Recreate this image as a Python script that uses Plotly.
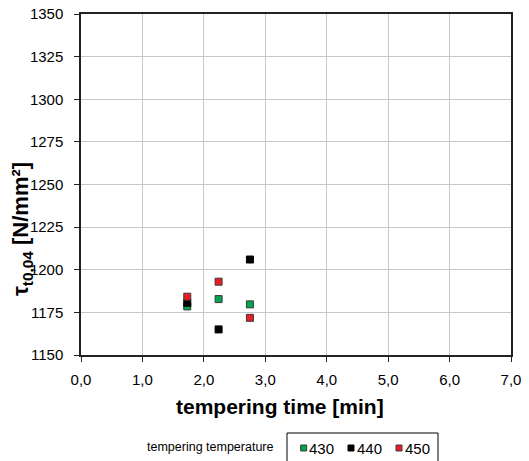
import plotly.graph_objects as go

times = [1.73, 2.24, 2.75]
t430 = [1178.5, 1182.8, 1179.7]
t440 = [1180.6, 1165.0, 1206.0]
t450 = [1184.2, 1193.0, 1171.8]
series_names = ["430", "440", "450"]
series_colors = ["#00A651", "#000000", "#ED1C24"]
xticks = [0, 1, 2, 3, 4, 5, 6, 7]
xticklabels = ["0,0", "1,0", "2,0", "3,0", "4,0", "5,0", "6,0", "7,0"]
yticks = [1150, 1175, 1200, 1225, 1250, 1275, 1300, 1325, 1350]
legend_title = "tempering temperature"

W, H = 529, 461
OFF = 8  # page body margin
# plot area in window pixels: x 81..511, y 14..355
PL, PT, PW, PH = 81, 14, 430, 341
L, T = PL - OFF, PT - OFF
R, B = W - L - PW, H - T - PH


def px(x):
    return (x - PL) / PW


def py(y):
    return (PT + PH - y) / PH


fig = go.Figure()
for name, vals, col in zip(series_names, [t430, t440, t450], series_colors):
    fig.add_trace(go.Scatter(
        x=times, y=vals, mode="markers", name=name, showlegend=False,
        marker=dict(symbol="square", size=7, color=col,
                    line=dict(color="#3a3a3a" if col != "#000000" else "#000000", width=1)),
    ))

font_family = "Liberation Sans, Arial, sans-serif"

shapes = [dict(type="rect", xref="paper", yref="paper",
               x0=px(287), x1=px(438), y0=py(433), y1=py(463),
               line=dict(color="#000000", width=1), fillcolor="white", layer="above")]
annotations = [
    dict(text=legend_title, xref="paper", yref="paper",
         x=px(145), y=py(447), xanchor="left", yanchor="middle",
         showarrow=False, font=dict(size=12.5)),
    dict(text="<b>tempering time [min]</b>", xref="paper", yref="paper",
         x=px(280), y=py(406), xanchor="center", yanchor="middle",
         showarrow=False, font=dict(size=21)),
    dict(text="<b>τ<sub>t0,04</sub> [N/mm²]</b>", xref="paper", yref="paper",
         x=px(22), y=py(229), xanchor="center", yanchor="middle", textangle=-90,
         showarrow=False, font=dict(size=22)),
]
marker_cx = [303.7, 351, 399]
for name, col, cx in zip(series_names, series_colors, marker_cx):
    shapes.append(dict(type="rect", xref="paper", yref="paper",
                       x0=px(cx - 3), x1=px(cx + 3), y0=py(451), y1=py(445),
                       line=dict(color="#3a3a3a" if col != "#000000" else "#000000", width=1),
                       fillcolor=col, layer="above"))
    annotations.append(dict(text=name, xref="paper", yref="paper",
                            x=px(cx + 3.5), y=py(448), xanchor="left", yanchor="middle",
                            showarrow=False, font=dict(size=15)))

fig.update_layout(
    width=W, height=H,
    margin=dict(l=L, r=R, t=T, b=B, autoexpand=False),
    paper_bgcolor="white", plot_bgcolor="white",
    font=dict(family=font_family, size=15, color="#000000"),
    showlegend=False,
    xaxis=dict(
        range=[0, 7], tickvals=xticks, ticktext=xticklabels,
        showgrid=True, gridcolor="#c8c8c8", gridwidth=1,
        showline=True, linecolor="#222222", linewidth=1.5, mirror=True,
        ticks="outside", ticklen=5, tickcolor="#222222",
        zeroline=False, automargin=False, ticklabelstandoff=5,
        ticklabeloverflow="allow",
    ),
    yaxis=dict(
        range=[1150, 1350], tickvals=yticks,
        showgrid=True, gridcolor="#c8c8c8", gridwidth=1,
        showline=True, linecolor="#222222", linewidth=1.5, mirror=True,
        ticks="outside", ticklen=5, tickcolor="#222222",
        zeroline=False, automargin=False, ticklabelstandoff=8,
        ticklabeloverflow="allow",
    ),
    shapes=shapes,
    annotations=annotations,
)

fig.write_html("out.html")
